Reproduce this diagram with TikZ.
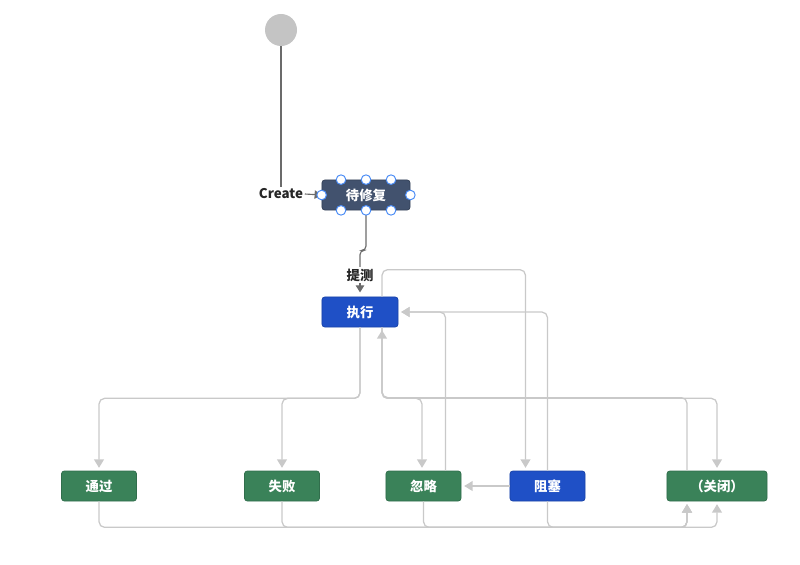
\documentclass[tikz,border=0pt]{standalone}
\usepackage{fontspec}
\setmainfont{Noto Sans CJK SC}
\usepackage{tikz}
\usetikzlibrary{positioning,arrows.meta,calc}
\definecolor{StartC}{HTML}{C4C4C4}
\definecolor{TodoC}{HTML}{42526E}
\definecolor{ProgC}{HTML}{1F50C6}
\definecolor{DoneC}{HTML}{3A8259}
\definecolor{Wire}{HTML}{C9C9C9}
\definecolor{Ink}{HTML}{6B6B6B}
\definecolor{Handle}{HTML}{4C8DF6}

\begin{document}
\begin{tikzpicture}[x=0.025cm,y=-0.025cm,
  font=\fontsize{9.5}{11}\selectfont\bfseries,
  st/.style={rounded corners=2pt,text=white,minimum height=0.75cm,
             minimum width=1.875cm,inner sep=0pt,line width=.5pt},
  todo/.style={st,fill=TodoC,draw=TodoC!80!black,minimum width=2.2cm},
  prog/.style={st,fill=ProgC,draw=ProgC!85!black,minimum width=1.9cm},
  done/.style={st,fill=DoneC,draw=DoneC!85!black},
  lab/.style={inner sep=1pt,text=black!85},
  ar/.style={-{Triangle[length=6pt,width=7pt]},line width=.9pt,draw=Wire,
             color=Wire,rounded corners=4pt,shorten >=2pt},
  dk/.style={line width=.8pt,draw=Ink,rounded corners=3pt},
  hd/.style={circle,draw=Handle,fill=white,line width=.7pt,inner sep=0pt,
             minimum size=0.24cm}]
\useasboundingbox (0,0) rectangle (800,564);

\node[circle,fill=StartC,minimum size=0.8cm,inner sep=0pt] (start) at (281,30) {};
\node[todo] (wait) at (366,195) {待修复};
\node[prog] (exec) at (360,312) {执行};
\node[done] (pass) at (99,486) {通过};
\node[done] (fail) at (282,486) {失败};
\node[done] (ign) at (423.5,486) {忽略};
\node[prog,minimum width=1.875cm] (blk) at (547.5,486) {阻塞};
\node[done,minimum width=2.5cm] (close) at (717,486) {（关闭）};

% create / submit
\node[lab] (cr) at (281,194) {Create};
\draw[dk] (start.south) -- (cr.north);
\draw[dk,-{Triangle[length=5pt,width=6pt]},color=Ink] (cr.east) -- (wait.west);
\node[lab] (tc) at (360,275) {提测};
\draw[dk] (wait.south) -- ++(0,40) -| (tc.north);
\draw[dk,-{Triangle[length=5pt,width=6pt]},color=Ink,shorten >=3pt] (tc.south) -- (exec.north);

% out of exec
\foreach \t in {pass,fail}
  \draw[ar] (exec.south) -- ++(0,71) -| (\t.north);
\coordinate (eb) at ($(exec.south)+(22,0)$);
\draw[ar] (eb) -- ++(0,71) -| ($(ign.north)+(-1.5,0)$);
\draw[ar] (eb) -- ++(0,71) -| (close.north);
\draw[ar] ($(close.north)+(-30,0)$) -- ++(0,-73) -| (eb);
\draw[ar] ($(exec.north)+(22,0)$) -- ++(0,-27) -| ($(blk.north)+(-22,0)$);

% back into exec
\draw[ar] ($(ign.north)+(22,0)$) |- (exec.east);
\draw[ar] (blk.north) |- (exec.east);
\draw[ar] (blk.west) -- (ign.east);

% into close
\foreach \s in {pass,fail,ign}
  \draw[ar] (\s.south) -- ++(0,26) -| ($(close.south)+(-30,0)$);
\draw[ar] (blk.south) -- ++(0,26) -| (close.south);

% selection handles
\foreach \a in {north,south}
  \foreach \dx in {-25,0,25}
    \node[hd] at ($(wait.\a)+(\dx,0)$) {};
\node[hd] at (wait.west) {};
\node[hd] at (wait.east) {};

\end{tikzpicture}
\end{document}
